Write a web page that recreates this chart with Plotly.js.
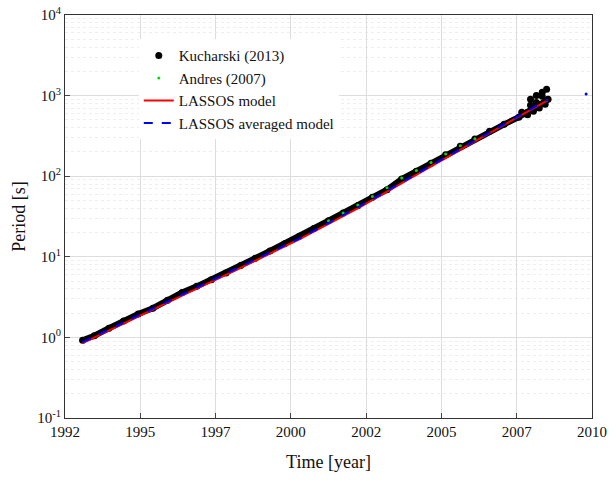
<!DOCTYPE html>
<html>
<head>
<script src="https://cdn.plot.ly/plotly-3.0.1.min.js"></script>
<style>body{margin:0;background:#fff}</style>
</head>
<body>
<div id="chart" style="width:614px;height:482px"></div>
<script>
const kYears = [1992.6,1993.0,1993.5,1994.0,1994.5,1995.0,1995.5,1996.0,1996.5,1997.0,1997.5,1998.0,1998.5,1999.0,1999.5,2000.0,2000.5,2001.0,2001.5,2002.0,2002.5,2003.0,2003.5,2004.0,2004.5,2005.0,2005.5,2006.0,2006.5,2007.0,2007.5,2007.8,2008.0,2008.2,2008.4,2008.5];
const kPeriod = [0.92,1.05,1.3,1.6,1.95,2.3,2.9,3.6,4.3,5.2,6.3,7.8,9.6,11.8,14.5,18,22.5,28,35,43,55,68,92,115,145,185,235,290,360,440,540,620,680,760,850,900];
const kScatterYears = [2007.6,2007.8,2007.9,2008.0,2008.1,2008.2,2008.3,2008.4,2007.9,2008.1,2008.3,2008.45];
const kScatterPeriod = [620,580,760,640,820,700,980,780,900,1000,1100,1200];
const aYears = [2001.0,2001.5,2002.0,2002.5,2003.0,2003.5,2004.0,2004.5,2005.0,2005.5,2006.0];
const aPeriod = [28,35,44,56,72,95,118,148,188,238,292];
const mYears = [1992.6,1994.0,1996.0,1998.0,2000.0,2002.0,2004.0,2006.0,2008.5];
const mPeriod = [0.85,1.5,3.3,7.3,16.5,40,105,270,880];
const avgYears = [1992.6,1994.0,1996.0,1998.0,2000.0,2002.0,2004.0,2006.0,2008.5];
const avgPeriod = [0.87,1.52,3.4,7.4,16.8,41,107,275,900];
const extraYears = [2009.8];
const extraPeriod = [1050];
const tickVals = [0,1,2,3,4,5,6,7].map(i => 1992 + i*18/7);
const tickText = ['1992','1995','1997','2000','2002','2005','2007','2010'];

const traces = [
  {x:kYears,y:kPeriod,mode:'lines',line:{color:'black',width:6},showlegend:false,hoverinfo:'skip'},
  {x:kYears.concat(kScatterYears),y:kPeriod.concat(kScatterPeriod),mode:'markers',marker:{color:'black',size:7},name:'Kucharski (2013)'},
  {x:aYears,y:aPeriod,mode:'markers',marker:{color:'#00dd00',size:3},name:'Andres (2007)'},
  {x:mYears,y:mPeriod,mode:'lines',line:{color:'red',width:2},name:'LASSOS model'},
  {x:avgYears,y:avgPeriod,mode:'lines',line:{color:'blue',width:2,dash:'dash'},name:'LASSOS averaged model'},
  {x:extraYears,y:extraPeriod,mode:'markers',marker:{color:'blue',size:3},showlegend:false}
];

const layout = {
  margin:{l:65,r:22,t:15,b:64},
  paper_bgcolor:'white',plot_bgcolor:'white',
  font:{family:'Liberation Serif, Times New Roman, serif',size:15,color:'#111'},
  xaxis:{range:[1992,2010],tickvals:tickVals,ticktext:tickText,showgrid:true,gridcolor:'#ddd',
    showline:true,mirror:true,linecolor:'#333',ticks:'inside',zeroline:false,automargin:false,
    tickfont:{size:15,color:'#111'},title:{text:'Time [year]',standoff:16}},
  yaxis:{type:'log',range:[-1,4],tickvals:[0.1,1,10,100,1000,10000],
    ticktext:['10<sup>-1</sup>','10<sup>0</sup>','10<sup>1</sup>','10<sup>2</sup>','10<sup>3</sup>','10<sup>4</sup>'],
    tickfont:{size:15,color:'#111'},automargin:false,
    showgrid:true,gridcolor:'#ddd',showline:true,mirror:true,linecolor:'#333',ticks:'inside',
    minor:{showgrid:true,gridcolor:'#eee',griddash:'dot',tickvals:[]},
    title:{text:'Period [s]',standoff:6}},
  legend:{x:0.14,y:0.94,bgcolor:'white',font:{size:15},tracegroupgap:0}
};
const minorVals=[];
[0.1,1,10,100,1000].forEach(d=>{for(let k=2;k<10;k++)minorVals.push(d*k);});
layout.yaxis.minor.tickvals=minorVals;
Plotly.newPlot('chart',traces,layout,{displayModeBar:false});
</script>
</body>
</html>
